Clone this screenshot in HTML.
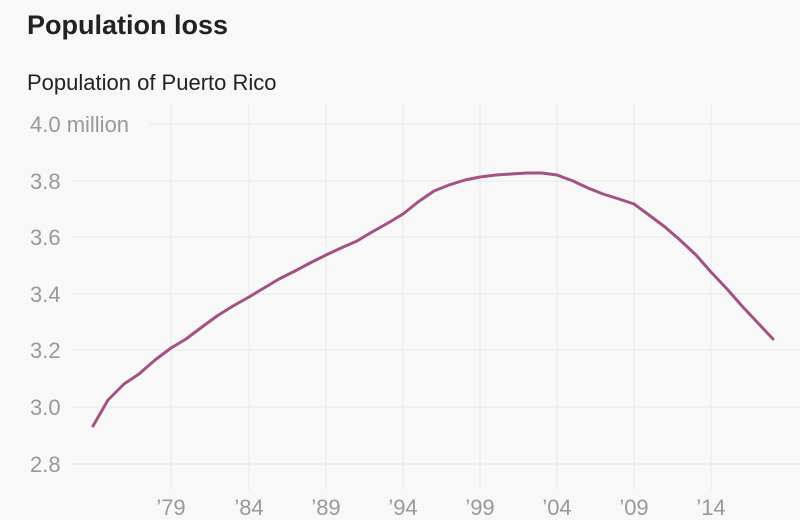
<!DOCTYPE html>
<html><head><meta charset="utf-8"><style>
html,body{margin:0;padding:0;background:#f8f8f8;width:800px;height:520px;overflow:hidden}
</style></head><body>
<svg width="800" height="520" xmlns="http://www.w3.org/2000/svg" style="display:block">
<rect width="800" height="520" fill="#f8f8f8"/>
<text x="27" y="34" font-family="Liberation Sans, sans-serif" font-size="27" font-weight="bold" fill="#222">Population loss</text>
<text x="27" y="90" font-family="Liberation Sans, sans-serif" font-size="22" fill="#222">Population of Puerto Rico</text>
<g stroke="#e8e8e8" stroke-width="1">
<line x1="150" y1="124" x2="800" y2="124"/>
<line x1="72" y1="181" x2="800" y2="181"/>
<line x1="72" y1="237" x2="800" y2="237"/>
<line x1="72" y1="294" x2="800" y2="294"/>
<line x1="72" y1="350" x2="800" y2="350"/>
<line x1="72" y1="407" x2="800" y2="407"/>
<line x1="72" y1="464" x2="800" y2="464"/>
<line x1="171" y1="104" x2="171" y2="490"/>
<line x1="249" y1="104" x2="249" y2="490"/>
<line x1="326" y1="104" x2="326" y2="490"/>
<line x1="403" y1="104" x2="403" y2="490"/>
<line x1="480" y1="104" x2="480" y2="490"/>
<line x1="557" y1="104" x2="557" y2="490"/>
<line x1="634" y1="104" x2="634" y2="490"/>
<line x1="711" y1="104" x2="711" y2="490"/>
</g>
<g font-family="Liberation Sans, sans-serif" font-size="22" fill="#999">
<text x="30" y="132">4.0 million</text>
<text x="30" y="189">3.8</text>
<text x="30" y="245">3.6</text>
<text x="30" y="302">3.4</text>
<text x="30" y="358">3.2</text>
<text x="30" y="415">3.0</text>
<text x="30" y="472">2.8</text>
<g text-anchor="middle">
<text x="171" y="515">’79</text>
<text x="249" y="515">’84</text>
<text x="326" y="515">’89</text>
<text x="403" y="515">’94</text>
<text x="480" y="515">’99</text>
<text x="557" y="515">’04</text>
<text x="634" y="515">’09</text>
<text x="711" y="515">’14</text>
</g>
</g>
<polyline fill="none" stroke="#a25283" stroke-width="3" stroke-linejoin="round" stroke-linecap="round"
points="93,426 108,400 124,384 139,374 155,360 171,348 186,339 202,327 217,316 233,306 249,297 264,288 279,279 295,271 310,263 326,255 341,248 357,241 372,232 388,223 403,214 418,202 434,191 449,185 465,180 480,177 496,175 511,174 527,173 542,173 557,175 573,181 588,188 603,194 619,199 634,204 649,215 665,227 680,240 696,255 711,272 727,289 742,306 757,322 773,339"/>
</svg>
</body></html>
